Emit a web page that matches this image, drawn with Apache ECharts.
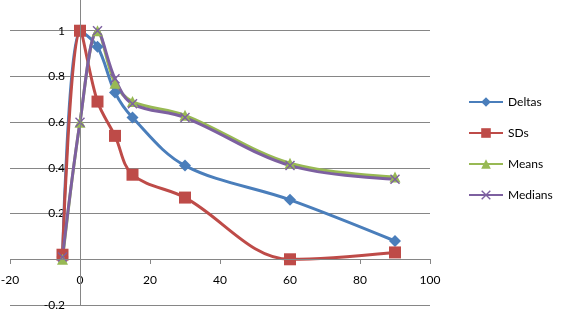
<!DOCTYPE html>
<html>
<head>
<meta charset="utf-8">
<script src="https://cdn.jsdelivr.net/npm/echarts@6/dist/echarts.min.js"></script>
<style>
  html, body { margin: 0; padding: 0; background: #fff; }
  #chart { width: 561px; height: 313px; }
</style>
</head>
<body>
<div id="chart"></div>
<script>
// x positions shared by all series
const xValues = [-5, 0, 5, 10, 15, 30, 60, 90];
const deltas = [0.01, 1.0, 0.93, 0.73, 0.62, 0.41, 0.26, 0.08];
const sds = [0.02, 1.0, 0.69, 0.54, 0.37, 0.27, 0.0, 0.03];
const means = [0.0, 0.6, 1.0, 0.77, 0.69, 0.63, 0.42, 0.36];
const medians = [0.01, 0.6, 1.0, 0.79, 0.68, 0.62, 0.41, 0.35];
const seriesNames = ['Deltas', 'SDs', 'Means', 'Medians'];

const xMin = -20, xMax = 100, xStep = 20;
const yMin = -0.2, yMax = 1.2, yStep = 0.2;

const pair = arr => xValues.map((x, i) => [x, arr[i]]);
const crossPath = 'path://M0,1L1,0L5,4L9,0L10,1L6,5L10,9L9,10L5,6L1,10L0,9L4,5Z';

const chart = echarts.init(document.getElementById('chart'));
const font = 'Lato, "Open Sans", sans-serif';
const axisColor = '#868686';

function line(name, data, color, symbol, size) {
  return {
    name: name,
    type: 'line',
    smooth: 0.35,
    data: pair(data),
    symbol: symbol,
    symbolSize: size,
    showAllSymbol: true,
    lineStyle: { color: color, width: 3 },
    itemStyle: { color: color },
    z: 3
  };
}

const deltaSeries = line('Deltas', deltas, '#4A7EBB', 'diamond', 12);
// axis lines through (0,0) drawn as markLines, so the "0" labels are kept
deltaSeries.markLine = {
  silent: true,
  symbol: 'none',
  label: { show: false },
  lineStyle: { color: axisColor, width: 1, type: 'solid' },
  emphasis: { disabled: true },
  data: [{ xAxis: 0 }, { yAxis: 0 }]
};

chart.setOption({
  animation: false,
  backgroundColor: '#fff',
  grid: { left: 10, right: 131, top: -15, bottom: 8, outerBoundsMode: 'none', containLabel: false },
  legend: {
    orient: 'vertical',
    left: 463,
    top: 91,
    itemWidth: 34,
    itemHeight: 12,
    itemGap: 19,
    textStyle: { fontFamily: font, fontSize: 12, color: '#000' },
    data: seriesNames
  },
  xAxis: {
    type: 'value',
    min: xMin,
    max: xMax,
    interval: xStep,
    position: 'bottom',
    offset: -46,
    axisLine: { show: false, onZero: false },
    axisTick: { show: true, length: 5, lineStyle: { color: axisColor } },
    axisLabel: { fontFamily: font, fontSize: 12, color: '#000', margin: 15, hideOverlap: false },
    splitLine: { show: false }
  },
  yAxis: {
    type: 'value',
    min: yMin,
    max: yMax,
    interval: yStep,
    position: 'left',
    offset: -70,
    axisLine: { show: false, onZero: false },
    axisTick: { show: false },
    axisLabel: {
      fontFamily: font, fontSize: 12, color: '#000', margin: 15, hideOverlap: false,
      formatter: v => (Math.abs(v - yMax) < 1e-6 ? '' : String(+v.toFixed(1)))
    },
    splitLine: { show: true, lineStyle: { color: axisColor, width: 1 } }
  },
  series: [
    deltaSeries,
    line('SDs', sds, '#BE4B48', 'rect', 12),
    line('Means', means, '#98B954', 'triangle', 11),
    line('Medians', medians, '#7D60A0', crossPath, 10)
  ]
});
</script>
</body>
</html>
